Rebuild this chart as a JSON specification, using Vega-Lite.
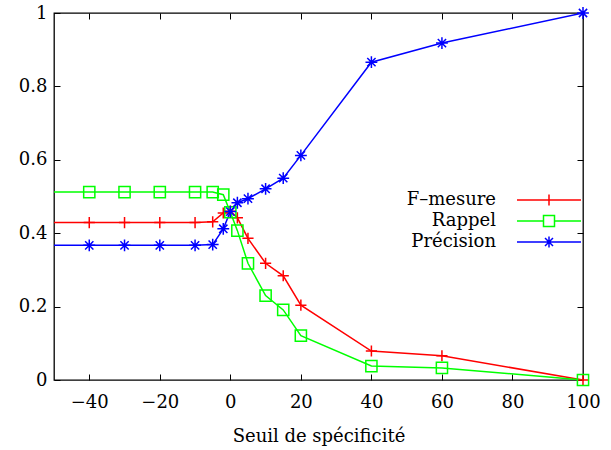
{
  "$schema": "https://vega.github.io/schema/vega-lite/v6.json",
  "width": 529,
  "height": 367,
  "autosize": {"type": "none"},
  "padding": {"left": 54, "top": 13, "right": 28, "bottom": 70},
  "config": {
    "view": {"stroke": "#000", "strokeWidth": 1.3},
    "font": "DejaVu Serif",
    "axis": {"grid": false, "domain": false, "tickColor": "#000", "tickWidth": 1, "labelColor": "#000", "labelFont": "DejaVu Serif", "labelFontSize": 18, "labelFlush": false},
    "legend": {
      "orient": "none", "legendX": 486, "legendY": 178, "title": null, "padding": 0,
      "labelFont": "DejaVu Serif", "labelFontSize": 18, "labelColor": "#000",
      "labelAlign": "right", "labelOffset": -62, "symbolSize": 100, "symbolStrokeWidth": 1.5, "rowPadding": 3,
      "symbolFillColor": "transparent"
    }
  },
  "datasets": {
    "d": [
      {"s": -60, "serie": "F–mesure", "v": 0.429},
      {"s": -40, "serie": "F–mesure", "v": 0.429},
      {"s": -30, "serie": "F–mesure", "v": 0.429},
      {"s": -20, "serie": "F–mesure", "v": 0.429},
      {"s": -10, "serie": "F–mesure", "v": 0.429},
      {"s": -5, "serie": "F–mesure", "v": 0.431},
      {"s": -2, "serie": "F–mesure", "v": 0.455},
      {"s": 0, "serie": "F–mesure", "v": 0.46},
      {"s": 2, "serie": "F–mesure", "v": 0.442},
      {"s": 5, "serie": "F–mesure", "v": 0.386},
      {"s": 10, "serie": "F–mesure", "v": 0.318},
      {"s": 15, "serie": "F–mesure", "v": 0.284},
      {"s": 20, "serie": "F–mesure", "v": 0.204},
      {"s": 40, "serie": "F–mesure", "v": 0.079},
      {"s": 60, "serie": "F–mesure", "v": 0.066},
      {"s": 100, "serie": "F–mesure", "v": 0},
      {"s": -60, "serie": "Rappel", "v": 0.512},
      {"s": -40, "serie": "Rappel", "v": 0.512},
      {"s": -30, "serie": "Rappel", "v": 0.512},
      {"s": -20, "serie": "Rappel", "v": 0.512},
      {"s": -10, "serie": "Rappel", "v": 0.512},
      {"s": -5, "serie": "Rappel", "v": 0.512},
      {"s": -2, "serie": "Rappel", "v": 0.505},
      {"s": 0, "serie": "Rappel", "v": 0.457},
      {"s": 2, "serie": "Rappel", "v": 0.407},
      {"s": 5, "serie": "Rappel", "v": 0.318},
      {"s": 10, "serie": "Rappel", "v": 0.23},
      {"s": 15, "serie": "Rappel", "v": 0.191},
      {"s": 20, "serie": "Rappel", "v": 0.121},
      {"s": 40, "serie": "Rappel", "v": 0.038},
      {"s": 60, "serie": "Rappel", "v": 0.033},
      {"s": 100, "serie": "Rappel", "v": 0},
      {"s": -60, "serie": "Précision", "v": 0.367},
      {"s": -40, "serie": "Précision", "v": 0.367},
      {"s": -30, "serie": "Précision", "v": 0.367},
      {"s": -20, "serie": "Précision", "v": 0.367},
      {"s": -10, "serie": "Précision", "v": 0.367},
      {"s": -5, "serie": "Précision", "v": 0.369},
      {"s": -2, "serie": "Précision", "v": 0.412},
      {"s": 0, "serie": "Précision", "v": 0.459},
      {"s": 2, "serie": "Précision", "v": 0.483},
      {"s": 5, "serie": "Précision", "v": 0.494},
      {"s": 10, "serie": "Précision", "v": 0.521},
      {"s": 15, "serie": "Précision", "v": 0.55},
      {"s": 20, "serie": "Précision", "v": 0.612},
      {"s": 40, "serie": "Précision", "v": 0.866},
      {"s": 60, "serie": "Précision", "v": 0.918},
      {"s": 100, "serie": "Précision", "v": 1}
    ]
  },
  "data": {"name": "d"},
  "layer": [
    {
      "mark": {"type": "line", "clip": true, "strokeWidth": 1.5},
      "encoding": {
        "x": {
          "field": "s", "type": "quantitative",
          "scale": {"domain": [-50, 100], "nice": false, "zero": false},
          "axis": {"orient": "bottom", "values": [-40, -20, 0, 20, 40, 60, 80, 100], "tickSize": -6, "labelPadding": 19,
                   "title": "Seuil de spécificité", "titleFont": "DejaVu Serif", "titleFontSize": 18, "titleFontWeight": "normal", "titleColor": "#000", "titlePadding": 16}
        },
        "y": {
          "field": "v", "type": "quantitative",
          "scale": {"domain": [0, 1], "nice": false},
          "axis": {"orient": "left", "values": [0, 0.2, 0.4, 0.6, 0.8, 1], "format": "~g", "tickSize": -6, "labelPadding": 13, "title": null}
        },
        "color": {
          "field": "serie", "type": "nominal",
          "scale": {"domain": ["F–mesure", "Rappel", "Précision"], "range": ["#ff0000", "#00ff00", "#0000ff"]}
        }
      }
    },
    {
      "transform": [{"filter": "datum.s >= -50 && datum.serie === 'F–mesure'"}],
      "mark": {"type": "point", "filled": false, "strokeWidth": 1.5, "size": 125, "opacity": 1, "shape": "M-1,0H1M0,-1V1"},
      "encoding": {
        "x": {
          "field": "s", "type": "quantitative",
          "axis": {"orient": "top", "values": [-40, -20, 0, 20, 40, 60, 80, 100], "tickSize": -6, "labels": false, "title": null}
        },
        "y": {
          "field": "v", "type": "quantitative",
          "axis": {"orient": "right", "values": [0, 0.2, 0.4, 0.6, 0.8, 1], "tickSize": -6, "labels": false, "title": null}
        },
        "color": {"field": "serie", "type": "nominal"}
      }
    },
    {
      "transform": [{"filter": "datum.s >= -50 && datum.serie === 'Rappel'"}],
      "mark": {"type": "point", "filled": false, "strokeWidth": 1.5, "size": 125, "opacity": 1, "shape": "M-1,-1H1V1H-1Z"},
      "encoding": {
        "x": {"field": "s", "type": "quantitative", "axis": null},
        "y": {"field": "v", "type": "quantitative", "axis": null},
        "color": {"field": "serie", "type": "nominal"}
      }
    },
    {
      "transform": [{"filter": "datum.s >= -50 && datum.serie === 'Précision'"}],
      "mark": {"type": "point", "filled": false, "strokeWidth": 1.5, "size": 140, "opacity": 1, "shape": "M-1,0H1M0,-1V1M-0.7,-0.7L0.7,0.7M-0.7,0.7L0.7,-0.7"},
      "encoding": {
        "x": {"field": "s", "type": "quantitative", "axis": null},
        "y": {"field": "v", "type": "quantitative", "axis": null},
        "color": {"field": "serie", "type": "nominal"}
      }
    },
    {
      "transform": [{"filter": "datum.s > 1000"}],
      "mark": {"type": "point", "filled": false, "strokeWidth": 1.5, "size": 100},
      "encoding": {
        "x": {"field": "s", "type": "quantitative", "axis": null},
        "y": {"field": "v", "type": "quantitative", "axis": null},
        "color": {"field": "serie", "type": "nominal"},
        "shape": {
          "field": "serie", "type": "nominal",
          "scale": {"domain": ["F–mesure", "Rappel", "Précision"], "range": ["M-6.4,0H6.4M0,-1.1V1.1", "M-6.4,0H-1.1M1.1,0H6.4M-1.1,-1.1H1.1V1.1H-1.1Z", "M-6.4,0H6.4M0,-1.1V1.1M-0.8,-0.8L0.8,0.8M-0.8,0.8L0.8,-0.8"]}
        }
      }
    }
  ],
  "resolve": {"axis": {"x": "independent", "y": "independent"}}
}
